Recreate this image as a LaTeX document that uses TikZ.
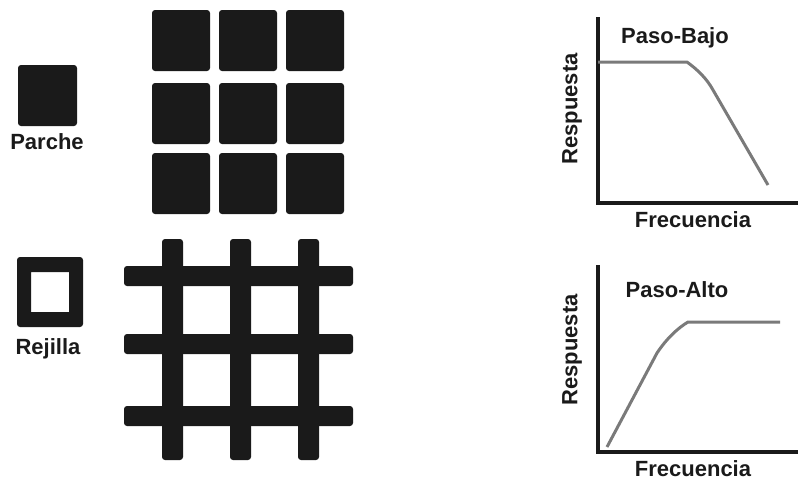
\documentclass[tikz,border=0pt]{standalone}
\usepackage{fontspec}
\setmainfont{Liberation Sans}
\definecolor{ink}{HTML}{1A1A1A}
\definecolor{curve}{HTML}{7A7A7A}
\begin{document}
\begin{tikzpicture}[x=1pt,y=-1pt,
  blk/.style={fill=ink,rounded corners=3pt},
  lbl/.style={font=\fontsize{22}{24}\selectfont\bfseries,text=ink,inner sep=0pt},
  axis/.style={draw=ink,line width=3.2pt},
  resp/.style={draw=curve,line width=3pt,line join=round}]
\useasboundingbox (0,0) rectangle (798,480);
% Parche
\fill[blk] (18,65) rectangle (77,126);
\node[lbl] (parche) at (47,142) {Parche};
% patch array
\foreach \x in {152,219,286}{
  \foreach \y in {10,83,153}{
    \fill[blk] (\x,\y) rectangle ++(58,61);
  }
}
% Rejilla
\fill[blk,even odd rule] (17,257) rectangle (83,327) [sharp corners] (31,272) rectangle (69,312);
\node[lbl] (rejilla) at (48,349) {Rejilla};
% grid
\foreach \x in {162,230,298}{
  \fill[blk] (\x,239) rectangle ++(21,221);
}
\foreach \y in {266,334,406}{
  \fill[blk] (124,\y) rectangle ++(229,20);
}
% Low pass
\coordinate (lpTop) at (598,17);
\coordinate (lpO) at (598,203);
\coordinate (lpR) at (798,203);
\draw[axis] (lpTop) -- (lpO) -- (lpR);
\draw[resp] (598,62) -- (687,62) .. controls (698,70) and (707,79) .. (713,90) -- (768,185);
\node[lbl] (lpt) at (675,38) {Paso-Bajo};
\node[lbl,rotate=90] (lpy) at (572,109) {Respuesta};
\node[lbl] (lpx) at (693,220) {Frecuencia};
% High pass
\coordinate (hpTop) at (598,265);
\coordinate (hpO) at (598,452);
\coordinate (hpR) at (798,452);
\draw[axis] (hpTop) -- (hpO) -- (hpR);
\draw[resp] (607,447) -- (657,353) .. controls (667,338) and (678,328) .. (688,322) -- (780,322);
\node[lbl] (hpt) at (677,290) {Paso-Alto};
\node[lbl,rotate=90] (hpy) at (572,350) {Respuesta};
\node[lbl] (hpx) at (693,469) {Frecuencia};
\end{tikzpicture}
\end{document}
